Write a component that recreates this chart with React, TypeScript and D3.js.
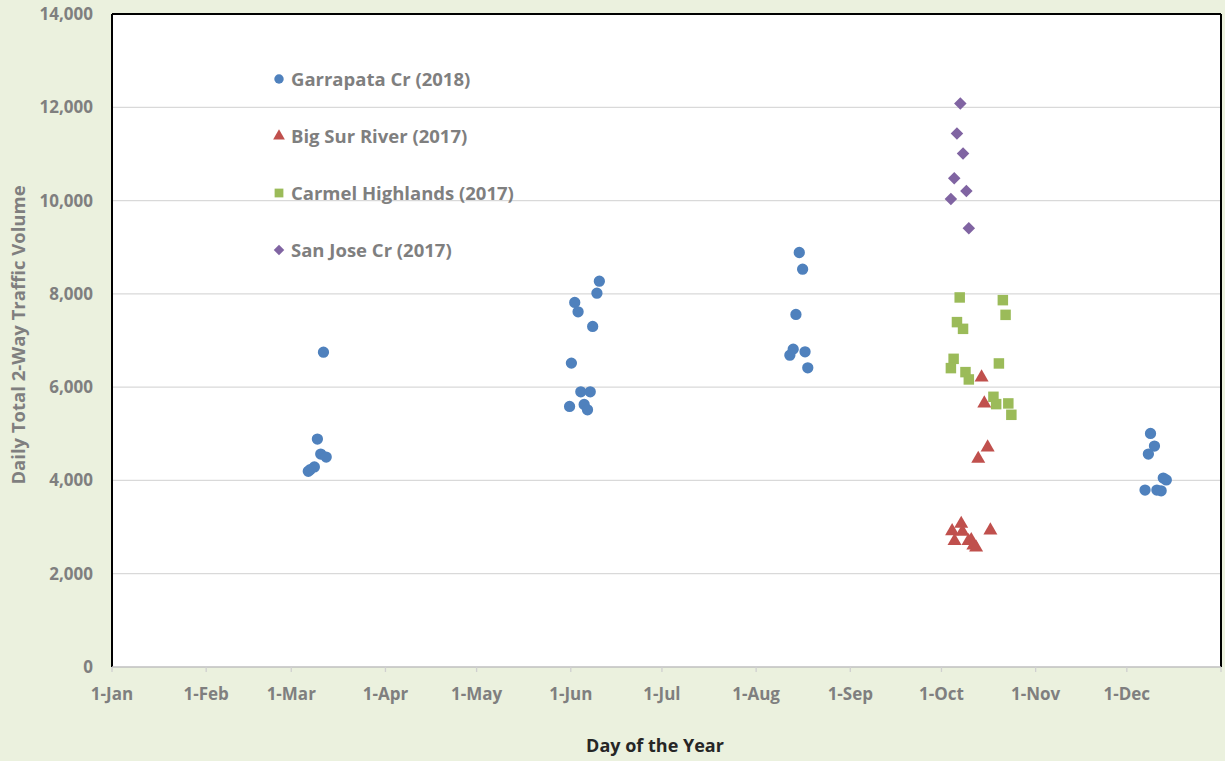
import React from "react";
import * as d3 from "d3";

const monthLabels = ["1-Jan","1-Feb","1-Mar","1-Apr","1-May","1-Jun","1-Jul","1-Aug","1-Sep","1-Oct","1-Nov","1-Dec"];
const monthStarts = [0,31,59,90,120,151,181,212,243,273,304,334];
const yTicks = [0,2000,4000,6000,8000,10000,12000,14000];

// [day of year (0 = 1-Jan), daily volume]
const garrapata: [number, number][] = [
  [69.6,6750],[67.6,4886],[68.7,4565],[70.5,4500],[66.6,4290],[65.2,4230],[64.6,4195],
  [160.4,8272],[159.6,8015],[152.3,7816],[153.4,7614],[158.2,7301],[151.2,6515],[154.3,5900],[157.4,5900],[150.6,5587],[155.4,5630],[156.5,5514],
  [226.2,8887],[227.3,8529],[225.1,7558],[224.2,6815],[223.1,6686],[228.1,6757],[229.0,6414],
  [341.8,5008],[343.1,4736],[341.1,4565],[346.0,4050],[347.0,4010],[340.0,3793],[343.9,3793],[345.3,3778],
];
const bigSur: [number, number][] = [
  [286.2,6208],[287.1,5651],[288.2,4708],[285.1,4464],
  [276.5,2914],[279.5,3071],[279.9,2900],[277.3,2700],[281.9,2700],[282.8,2722],[283.5,2604],[284.4,2561],[289.1,2930],
];
const carmel: [number, number][] = [
  [279.0,7923],[293.2,7865],[294.1,7550],[278.1,7394],[280.1,7250],[277.0,6607],[276.1,6408],[291.9,6508],
  [280.9,6322],[282.0,6165],[290.1,5793],[291.0,5636],[295.0,5651],[296.0,5407],
];
const sanJose: [number, number][] = [
  [279.2,12080],[278.1,11437],[280.1,11009],[277.2,10479],[281.2,10207],[276.1,10036],[282.0,9408],
];

const seriesNames = ["Garrapata Cr (2018)","Big Sur River (2017)","Carmel Highlands (2017)","San Jose Cr (2017)"];
const seriesData = [garrapata, bigSur, carmel, sanJose];
const seriesColors = ["#4F81BD","#C0504D","#9BBB59","#8064A2"];
const seriesSymbols = [d3.symbolCircle, d3.symbolTriangle, d3.symbolSquare, d3.symbolDiamond2];
const seriesSizes = [100, 85, 110, 100];

export default function App() {
  const W = 1225, H = 761;
  const left = 112, right = 1221, top = 14, bottom = 667;
  const x = d3.scaleLinear().domain([0, 365]).range([left, right]);
  const y = d3.scaleLinear().domain([0, 14000]).range([bottom, top]);
  const font = "'Open Sans', sans-serif";
  const grey = "#7F7F7F";
  const fmt = d3.format(",");

  return (
    <svg width={W} height={H} style={{ position: "absolute", left: 0, top: 0, display: "block" }}>
      <rect x={0} y={0} width={W} height={H} fill="#EBF1DE" />
      <rect x={left} y={top} width={right - left} height={bottom - top} fill="#FFFFFF" />
      {yTicks.filter(t => t > 0 && t < 14000).map(t => (
        <line key={"g" + t} x1={left} x2={right} y1={y(t)} y2={y(t)} stroke="#D9D9D9" strokeWidth={1.3} />
      ))}
      {/* border */}
      <line x1={left} x2={right} y1={top} y2={top} stroke="#000" strokeWidth={2} />
      <line x1={left} x2={left} y1={top} y2={bottom} stroke="#000" strokeWidth={2} />
      <line x1={right} x2={right} y1={top} y2={bottom} stroke="#000" strokeWidth={2} />
      {/* x axis */}
      <line x1={left} x2={right} y1={bottom} y2={bottom} stroke="#BFBFBF" strokeWidth={1.5} />
      {monthStarts.map((d, i) => (
        <g key={"xt" + i}>
          <line x1={x(d)} x2={x(d)} y1={bottom} y2={bottom + 5} stroke="#D0D0D0" strokeWidth={1.3} />
          <text x={x(d)} y={700} textAnchor="middle" fontFamily={font} fontWeight={700} fontSize={17} fill={grey}>{monthLabels[i]}</text>
        </g>
      ))}
      <line x1={right} x2={right} y1={bottom} y2={bottom + 5} stroke="#D0D0D0" strokeWidth={1.3} />
      {yTicks.map(t => (
        <text key={"yt" + t} x={93} y={y(t) + 6} textAnchor="end" fontFamily={font} fontWeight={700} fontSize={17} fill={grey}>{fmt(t)}</text>
      ))}
      <text x={655} y={752} textAnchor="middle" fontFamily={font} fontWeight={700} fontSize={18} fill="#262626">Day of the Year</text>
      <text transform={`translate(25, ${335}) rotate(-90)`} textAnchor="middle" fontFamily={font} fontWeight={700} fontSize={18.5} fill={grey}>Daily Total 2-Way Traffic Volume</text>
      {/* points */}
      {seriesData.map((data, si) => (
        <g key={"s" + si}>
          {data.map((p, i) => (
            <path key={i} d={d3.symbol().type(seriesSymbols[si]).size(seriesSizes[si])() || ""}
              transform={`translate(${x(p[0])},${y(p[1])})`} fill={seriesColors[si]} />
          ))}
        </g>
      ))}
      {/* legend */}
      {seriesNames.map((n, i) => (
        <g key={"l" + i} transform={`translate(279, ${79 + i * 57})`}>
          <path d={d3.symbol().type(seriesSymbols[i]).size(seriesSizes[i] * 0.7)() || ""} fill={seriesColors[i]} />
          <text x={12} y={6.5} fontFamily={font} fontWeight={700} fontSize={18.5} fill={grey}>{n}</text>
        </g>
      ))}
    </svg>
  );
}
